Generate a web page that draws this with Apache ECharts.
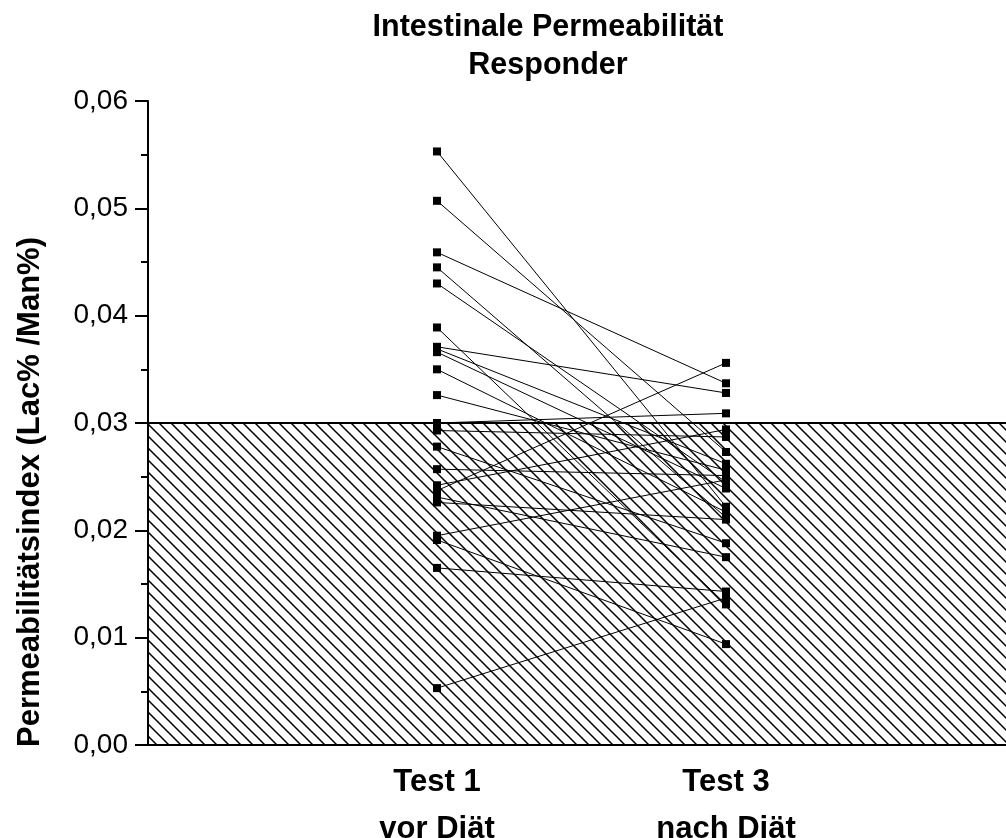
<!DOCTYPE html>
<html>
<head>
<meta charset="utf-8">
<script src="https://cdn.jsdelivr.net/npm/echarts@6/dist/echarts.min.js"></script>
<style>html,body{margin:0;padding:0;background:#fff;}#c{width:1006px;height:838px;}</style>
</head>
<body>
<div id="c"></div>
<script>
// Categories (x positions 1 and 2)
const categories = ['Test 1\nvor Diät', 'Test 3\nnach Diät'];
// Permeability index per subject, before (Test 1) and after (Test 3) diet
const test1 = [0.0553, 0.0507, 0.0459, 0.0445, 0.0430, 0.0389, 0.0371, 0.0369, 0.0366, 0.0350, 0.0326, 0.0300, 0.0293, 0.0278, 0.0257, 0.0242, 0.0237, 0.0231, 0.0226, 0.0195, 0.0191, 0.0165, 0.0053];
const test3 = [0.0222, 0.0273, 0.0337, 0.0212, 0.0245, 0.0131, 0.0328, 0.0262, 0.0239, 0.0217, 0.0256, 0.0309, 0.0287, 0.0188, 0.0251, 0.0294, 0.0356, 0.0175, 0.0210, 0.0247, 0.0094, 0.0143, 0.0137];
const yTicks = [0, 0.01, 0.02, 0.03, 0.04, 0.05, 0.06];
const threshold = 0.03;

const FONT = "'Liberation Sans', Arial, sans-serif";

// hatch pattern
const tile = document.createElement('canvas');
tile.width = 12; tile.height = 12;
const g = tile.getContext('2d');
g.strokeStyle = '#000';
g.lineWidth = 1.5;
g.beginPath();
g.moveTo(-1, -1); g.lineTo(13, 13);
g.moveTo(-1, 11); g.lineTo(1, 13);
g.moveTo(11, -1); g.lineTo(13, 1);
g.stroke();

const chart = echarts.init(document.getElementById('c'), null, {renderer: 'canvas'});

const series = [{
  type: 'line',
  data: [],
  z: 1,
  silent: true,
  markArea: {
    silent: true,
    itemStyle: {color: {image: tile, repeat: 'repeat'}, borderColor: '#000', borderWidth: 2, opacity: 1},
    data: [[{coord: [0, 0]}, {coord: [3, threshold]}]]
  }
}];
for (let i = 0; i < test1.length; i++) {
  series.push({
    type: 'line',
    z: 3,
    data: [[1, test1[i]], [2, test3[i]]],
    symbol: 'rect',
    symbolSize: 8,
    showSymbol: true,
    lineStyle: {color: '#000', width: 1},
    itemStyle: {color: '#000'},
    silent: true
  });
}

chart.setOption({
  animation: false,
  backgroundColor: '#fff',
  grid: {left: 148, top: 101, width: 867, height: 644, containLabel: false, outerBoundsMode: 'none'},
  xAxis: {
    type: 'value', min: 0, max: 3, interval: 1,
    axisLine: {show: false}, axisTick: {show: false}, splitLine: {show: false},
    axisLabel: {
      margin: 14,
      formatter: v => (v === 1 ? categories[0] : v === 2 ? categories[1] : ''),
      fontFamily: FONT, fontSize: 31, fontWeight: 'bold', color: '#000', lineHeight: 47
    }
  },
  yAxis: {
    type: 'value', min: 0, max: 0.06, interval: 0.01,
    axisLine: {show: true, lineStyle: {color: '#000', width: 2}},
    axisTick: {show: true, length: 13, lineStyle: {color: '#000', width: 2}},
    minorTick: {show: true, splitNumber: 2, length: 7, lineStyle: {color: '#000', width: 2}},
    splitLine: {show: false},
    axisLabel: {
      margin: 20,
      formatter: v => v.toFixed(2).replace('.', ','),
      fontFamily: FONT, fontSize: 28, color: '#000'
    }
  },
  graphic: [
    {type: 'text', x: 548, y: 9, style: {text: 'Intestinale Permeabilität\nResponder', textAlign: 'center', font: "bold 30.5px 'Liberation Sans', Arial, sans-serif", lineHeight: 38, fill: '#000'}},
    {type: 'text', x: 30, y: 492, rotation: Math.PI / 2, style: {text: 'Permeabilitätsindex (Lac% /Man%)', textAlign: 'center', textVerticalAlign: 'middle', font: "bold 31px 'Liberation Sans', Arial, sans-serif", fill: '#000'}}
  ],
  series: series
});
</script>
</body>
</html>
